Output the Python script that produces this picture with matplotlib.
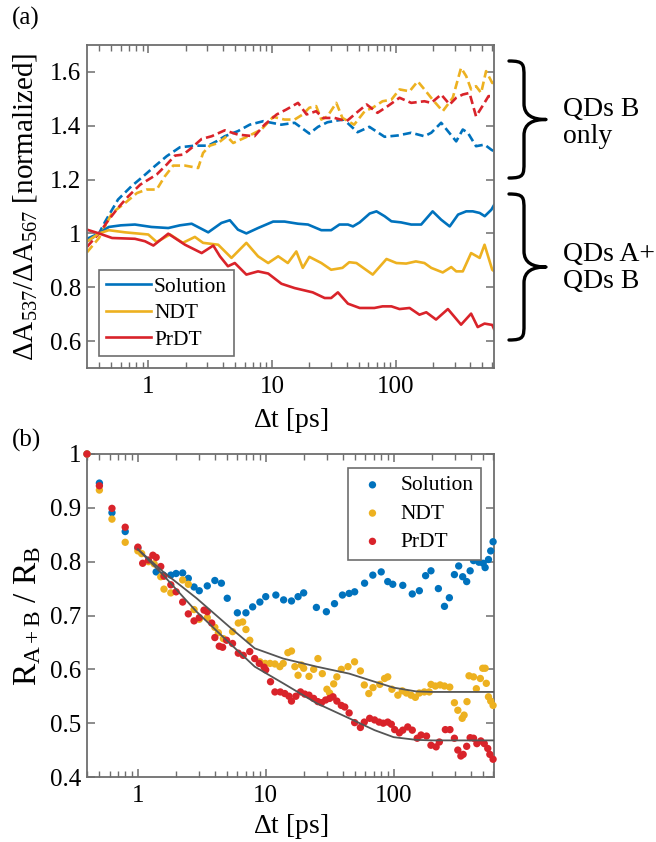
import matplotlib
matplotlib.use("Agg")
import matplotlib.pyplot as plt
from matplotlib.path import Path
from matplotlib.patches import PathPatch
from matplotlib.ticker import FixedLocator, FixedFormatter, LogLocator, NullFormatter

plt.rcParams['font.family'] = ['Liberation Serif', 'DejaVu Serif']
plt.rcParams['mathtext.fontset'] = 'custom'
plt.rcParams['mathtext.rm'] = 'Liberation Serif'
plt.rcParams['mathtext.it'] = 'Liberation Serif:italic'
plt.rcParams['mathtext.bf'] = 'Liberation Serif:bold'

# ---------------- colours / labels ----------------
series_names = ["Solution", "NDT", "PrDT"]
colors = ["#0072BD", "#EDB120", "#D9232A"]

# ---------------- panel (a): solid (QDs A + QDs B) ----------------
a_sol_t = [0.32, 0.4, 0.48, 0.6, 0.78, 1.06, 1.45, 1.8, 2.24, 3.05, 3.9, 4.56, 5.3, 6.2, 7.7, 10.2, 12.6, 16.2, 19.5,
           25, 30, 35, 41, 45, 51, 61.5, 69.7, 81, 92, 110, 133, 160, 198, 232, 272, 318, 370, 418, 475, 522, 590, 620]
a_sol_v = [0.98, 1.0, 1.024, 1.03, 1.033, 1.024, 1.02, 1.03, 1.036, 1.004, 1.039, 1.049, 1.014, 1.0, 1.02, 1.044,
           1.044, 1.036, 1.033, 1.012, 1.012, 1.033, 1.033, 1.026, 1.041, 1.074, 1.082, 1.064, 1.045, 1.041, 1.033,
           1.033, 1.082, 1.051, 1.026, 1.07, 1.082, 1.082, 1.076, 1.064, 1.088, 1.105]

a_ndt_t = [0.32, 0.4, 0.48, 0.65, 1.0, 1.17, 1.5, 1.9, 2.38, 2.77, 3.67, 4.7, 6.2, 7.7, 9.3, 11.2, 13.4, 15.7, 17.7,
           20, 25, 30, 37, 42, 48, 65, 84, 101, 121, 145, 170, 193, 239, 280, 307, 347, 405, 475, 520, 600, 620]
a_ndt_v = [0.97, 1.0, 1.012, 1.004, 0.996, 0.968, 0.996, 0.965, 0.987, 0.965, 0.958, 0.909, 0.965, 0.915, 0.89, 0.915,
           0.89, 0.933, 0.872, 0.913, 0.89, 0.865, 0.872, 0.893, 0.89, 0.847, 0.905, 0.89, 0.888, 0.896, 0.89, 0.872,
           0.855, 0.875, 0.859, 0.859, 0.927, 0.909, 0.958, 0.865, 0.86]

a_prdt_t = [0.32, 0.4, 0.51, 0.78, 0.94, 1.1, 1.45, 1.98, 2.7, 3.35, 3.79, 4.4, 5.0, 6.2, 7.7, 9.3, 11.9, 15.2, 21.3,
            26.6, 30, 34, 41, 51, 67, 78, 92, 107, 129, 155, 176, 211, 263, 336, 405, 458, 520, 600, 620]
a_prdt_v = [1.014, 1.0, 0.983, 0.98, 0.971, 0.955, 0.999, 0.958, 0.927, 0.955, 0.915, 0.878, 0.89, 0.847, 0.859,
            0.851, 0.813, 0.797, 0.781, 0.76, 0.76, 0.781, 0.739, 0.723, 0.723, 0.729, 0.729, 0.719, 0.723, 0.698,
            0.707, 0.68, 0.719, 0.661, 0.702, 0.652, 0.665, 0.66, 0.645]

# ---------------- panel (a): dashed (QDs B only) ----------------
b_sol_t = [0.32, 0.4, 0.45, 0.57, 0.73, 0.91, 1.13, 1.41, 1.8, 2.38, 3.05, 3.55, 4.15, 5.3, 6.6, 8.5, 9.9, 11.9, 15.2,
           20, 23.5, 28, 34, 38, 49, 61, 81, 104, 133, 170, 193, 232, 263, 307, 347, 381, 444, 520, 590, 620]
b_sol_v = [0.97, 1.0, 1.045, 1.126, 1.175, 1.212, 1.25, 1.287, 1.32, 1.326, 1.326, 1.342, 1.361, 1.38, 1.404, 1.417,
           1.411, 1.404, 1.411, 1.371, 1.396, 1.413, 1.42, 1.423, 1.376, 1.396, 1.359, 1.364, 1.374, 1.361, 1.374,
           1.411, 1.38, 1.342, 1.386, 1.374, 1.324, 1.33, 1.311, 1.305]

b_ndt_t = [0.32, 0.4, 0.51, 0.65, 0.81, 0.97, 1.17, 1.36, 1.59, 1.98, 2.53, 2.77, 3.14, 3.67, 4.3, 4.85, 6.4, 8.2,
           10.2, 12.6, 15.2, 17.7, 20, 22.7, 25, 28, 33, 37, 46, 56, 65, 78, 92, 107, 129, 150, 170, 198, 239, 288,
           336, 370, 405, 444, 488, 535, 600, 620]
b_ndt_v = [0.93, 0.983, 1.076, 1.113, 1.15, 1.163, 1.163, 1.212, 1.252, 1.252, 1.243, 1.299, 1.326, 1.336, 1.361,
           1.336, 1.361, 1.386, 1.433, 1.423, 1.423, 1.442, 1.467, 1.473, 1.423, 1.435, 1.485, 1.429, 1.404, 1.454,
           1.467, 1.491, 1.497, 1.535, 1.528, 1.565, 1.535, 1.497, 1.454, 1.504, 1.615, 1.584, 1.535, 1.547, 1.522,
           1.603, 1.559, 1.56]

b_prdt_t = [0.32, 0.4, 0.48, 0.57, 0.69, 0.86, 1.17, 1.41, 1.64, 1.92, 2.24, 2.7, 3.25, 4.15, 5.3, 7.2, 8.7, 10.9,
            13.0, 16.2, 19, 22.7, 25.7, 32, 40, 48, 58, 71, 86, 107, 133, 170, 193, 232, 272, 307, 347, 393, 444,
            500, 560, 620]
b_prdt_v = [0.95, 1.0, 1.051, 1.095, 1.138, 1.181, 1.219, 1.256, 1.289, 1.293, 1.318, 1.351, 1.361, 1.383, 1.367,
            1.361, 1.404, 1.442, 1.46, 1.485, 1.442, 1.454, 1.429, 1.429, 1.417, 1.448, 1.479, 1.448, 1.473, 1.504,
            1.485, 1.491, 1.485, 1.516, 1.479, 1.504, 1.516, 1.522, 1.435, 1.473, 1.51, 1.51]

# ---------------- panel (b): ratio R_A+B / R_B ----------------
r_sol_t = [0.4, 0.5, 0.627, 0.796, 1.0, 1.39, 1.58, 1.81, 1.99, 2.24, 2.48, 2.75, 3.02, 3.49, 4.0, 4.5, 5.0, 6.0,
           7.0, 7.9, 9.0, 10.0, 12.0, 13.8, 15.9, 17.9, 19.8, 24.9, 29.8, 34.5, 39.8, 44.9, 49.6, 59.3, 68.8, 80,
           90, 98.5, 118, 140, 159, 178, 196, 224, 250, 273, 299, 323, 347, 373, 397, 422, 448, 465, 502, 520, 552,
           575, 600]
r_sol_v = [1.0, 0.946, 0.891, 0.856, 0.825, 0.781, 0.775, 0.775, 0.778, 0.779, 0.769, 0.753, 0.746, 0.755, 0.765,
           0.76, 0.732, 0.705, 0.705, 0.716, 0.725, 0.735, 0.738, 0.729, 0.727, 0.735, 0.742, 0.715, 0.707, 0.722,
           0.738, 0.741, 0.744, 0.76, 0.775, 0.781, 0.763, 0.758, 0.756, 0.74, 0.746, 0.774, 0.783, 0.75, 0.717,
           0.733, 0.776, 0.792, 0.772, 0.763, 0.783, 0.802, 0.814, 0.799, 0.797, 0.789, 0.804, 0.82, 0.837]

r_ndt_t = [0.4, 0.5, 0.627, 0.796, 1.0, 1.07, 1.21, 1.34, 1.51, 1.6, 1.81, 2.24, 2.48, 2.75, 3.02, 3.49, 4.0, 4.26,
           4.66, 5.5, 6.1, 6.6, 7.0, 7.5, 9.0, 9.9, 10.8, 11.8, 12.9, 13.7, 14.9, 15.9, 16.9, 17.9, 19.0, 19.8, 21.8,
           23.7, 25.6, 27.7, 30.1, 31.6, 34, 36, 39, 44, 49.5, 55, 59, 64, 69, 78, 85, 90, 97, 108, 117, 126, 137,
           148, 159, 174, 190, 196, 212, 231, 250, 275, 299, 318, 344, 356, 375, 389, 422, 444, 477, 498, 520, 531,
           552, 575, 600]
r_ndt_v = [1.0, 0.933, 0.879, 0.836, 0.82, 0.815, 0.8, 0.796, 0.772, 0.749, 0.742, 0.766, 0.758, 0.711, 0.693, 0.696,
           0.678, 0.668, 0.657, 0.67, 0.686, 0.688, 0.674, 0.654, 0.614, 0.611, 0.611, 0.61, 0.605, 0.611, 0.631,
           0.634, 0.605, 0.589, 0.608, 0.602, 0.587, 0.6, 0.62, 0.592, 0.563, 0.556, 0.573, 0.586, 0.6, 0.605, 0.614,
           0.597, 0.571, 0.555, 0.566, 0.572, 0.583, 0.586, 0.563, 0.552, 0.56, 0.556, 0.552, 0.548, 0.556, 0.558,
           0.558, 0.572, 0.569, 0.571, 0.569, 0.567, 0.538, 0.524, 0.509, 0.515, 0.54, 0.588, 0.586, 0.564, 0.583,
           0.602, 0.602, 0.574, 0.549, 0.541, 0.533]

r_prdt_t = [0.4, 0.5, 0.627, 0.796, 1.0, 1.09, 1.21, 1.31, 1.39, 1.51, 1.6, 1.81, 1.99, 2.24, 2.48, 2.75, 3.02, 3.29,
            3.49, 3.78, 4.0, 4.33, 4.6, 4.94, 5.5, 6.1, 6.67, 7.5, 8.2, 8.9, 9.7, 10.0, 10.9, 11.8, 13.0, 14.1, 15.2,
            15.9, 17.2, 18.7, 20.2, 21.8, 23.7, 25.6, 27.3, 29.4, 31.6, 33.6, 36, 39, 41.5, 44.9, 49.6, 55, 59, 65,
            71, 77, 83, 90, 96, 102, 111, 118, 129, 140, 153, 164, 181, 196, 215, 228, 254, 276, 299, 318, 336, 350,
            373, 397, 422, 448, 481, 512, 545, 566, 600]
r_prdt_v = [1.0, 0.941, 0.899, 0.864, 0.827, 0.797, 0.803, 0.812, 0.808, 0.791, 0.773, 0.757, 0.744, 0.725, 0.703,
            0.69, 0.696, 0.71, 0.707, 0.686, 0.659, 0.643, 0.641, 0.654, 0.648, 0.63, 0.626, 0.633, 0.62, 0.611,
            0.604, 0.599, 0.577, 0.558, 0.558, 0.555, 0.55, 0.541, 0.55, 0.558, 0.554, 0.552, 0.546, 0.54, 0.538,
            0.543, 0.546, 0.549, 0.541, 0.533, 0.53, 0.519, 0.501, 0.492, 0.502, 0.509, 0.506, 0.502, 0.5, 0.502,
            0.498, 0.488, 0.482, 0.487, 0.493, 0.487, 0.472, 0.478, 0.476, 0.459, 0.456, 0.465, 0.488, 0.488, 0.472,
            0.45, 0.439, 0.442, 0.457, 0.473, 0.472, 0.462, 0.467, 0.462, 0.453, 0.442, 0.433]

# fit curves (gray)
fit_t = [1.0, 1.58, 2.88, 5.25, 8.2, 13.7, 25, 45, 71, 100, 150, 200, 600]
fit_ndt_v = [0.823, 0.781, 0.732, 0.678, 0.639, 0.62, 0.605, 0.592, 0.577, 0.566, 0.559, 0.558, 0.558]
fit_prdt_v = [0.823, 0.775, 0.707, 0.648, 0.605, 0.574, 0.537, 0.509, 0.487, 0.474, 0.469, 0.468, 0.468]

a_yticks = [0.6, 0.8, 1.0, 1.2, 1.4, 1.6]
a_yticklabels = ["0.6", "0.8", "1", "1.2", "1.4", "1.6"]
b_yticks = [0.4, 0.5, 0.6, 0.7, 0.8, 0.9, 1.0]
b_yticklabels = ["0.4", "0.5", "0.6", "0.7", "0.8", "0.9", "1"]
xticks = [1, 10, 100]
xticklabels = ["1", "10", "100"]

W, H = 656, 842
fig = plt.figure(figsize=(W / 100, H / 100), dpi=100)


def px_rect(l, t, r, b):
    return [l / W, 1 - b / H, (r - l) / W, (b - t) / H]


axA = fig.add_axes(px_rect(87, 45, 494, 368))
axB = fig.add_axes(px_rect(87, 454, 494, 777))

spine_col = "#6e6e6e"
TICK_FS = 18
LABEL_FS = 20


def style_axes(ax):
    ax.set_xscale("log")
    for s in ax.spines.values():
        s.set_color(spine_col)
        s.set_linewidth(1.3)
    ax.xaxis.set_major_locator(FixedLocator(xticks))
    ax.xaxis.set_major_formatter(FixedFormatter(xticklabels))
    ax.xaxis.set_minor_locator(LogLocator(base=10, subs=[2, 3, 4, 5, 6, 7, 8, 9], numticks=20))
    ax.xaxis.set_minor_formatter(NullFormatter())
    ax.tick_params(which="both", direction="in", top=True, right=True, color=spine_col,
                   labelsize=TICK_FS, labelcolor="black")
    ax.tick_params(which="major", length=6, width=1.1)
    ax.tick_params(which="minor", length=4, width=1.0)
    ax.tick_params(axis="x", pad=6)
    ax.tick_params(axis="y", pad=4)


# ---------- panel (a) ----------
lw = 1.9
dash = (3.2, 1.6)
solid_sets = [(a_sol_t, a_sol_v), (a_ndt_t, a_ndt_v), (a_prdt_t, a_prdt_v)]
dashed_sets = [(b_sol_t, b_sol_v), (b_ndt_t, b_ndt_v), (b_prdt_t, b_prdt_v)]
for (t, v), c in zip(dashed_sets, colors):
    axA.plot(t, v, color=c, lw=lw, dashes=dash)
handles = []
for (t, v), c, n in zip(solid_sets, colors, series_names):
    h, = axA.plot(t, v, color=c, lw=lw, label=n)
    handles.append(h)

style_axes(axA)
axA.set_xlim(0.32, 620)
axA.set_ylim(0.5, 1.7)
axA.yaxis.set_major_locator(FixedLocator(a_yticks))
axA.yaxis.set_major_formatter(FixedFormatter(a_yticklabels))
axA.set_xlabel(r"$\Delta$t [ps]", fontsize=LABEL_FS)
axA.xaxis.set_label_coords(0.5, -0.118)
axA.set_ylabel(r"$\Delta\mathrm{A}_{537}/\Delta\mathrm{A}_{567}$ [normalized]", fontsize=LABEL_FS + 1)
axA.yaxis.set_label_coords(-0.118, 0.5)
legA = axA.legend(handles=handles, loc="lower left", bbox_to_anchor=(0.03, 0.037), borderaxespad=0,
                  fontsize=15.5, frameon=True, fancybox=False, framealpha=1, edgecolor=spine_col,
                  handlelength=2.1, handletextpad=0.15, labelspacing=0.3, borderpad=0.3)
legA.get_frame().set_linewidth(1.2)

# ---------- panel (b) ----------
ms = 28
scat_sets = [(r_sol_t, r_sol_v), (r_ndt_t, r_ndt_v), (r_prdt_t, r_prdt_v)]
for (t, v), c, n in zip(scat_sets, colors, series_names):
    axB.scatter(t, v, s=ms, color=c, edgecolors="none", label=n, clip_on=False, zorder=3)
axB.plot(fit_t, fit_ndt_v, color="#555555", lw=1.3, zorder=4)
axB.plot(fit_t, fit_prdt_v, color="#555555", lw=1.3, zorder=4)

style_axes(axB)
axB.set_xlim(0.4, 610)
axB.set_ylim(0.4, 1.0)
axB.yaxis.set_major_locator(FixedLocator(b_yticks))
axB.yaxis.set_major_formatter(FixedFormatter(b_yticklabels))
axB.set_xlabel(r"$\Delta$t [ps]", fontsize=LABEL_FS)
axB.xaxis.set_label_coords(0.5, -0.108)
axB.set_ylabel(r"$\mathrm{R}_{\mathrm{A+B}}\ /\ \mathrm{R}_{\mathrm{B}}$", fontsize=24)
axB.yaxis.set_label_coords(-0.108, 0.5)
legB = axB.legend(loc="upper right", bbox_to_anchor=(0.968, 0.957), borderaxespad=0, fontsize=15.5,
                  frameon=True, fancybox=False, framealpha=1, edgecolor=spine_col,
                  handlelength=1.6, handletextpad=0.5, labelspacing=0.38, borderpad=0.35, scatterpoints=1)
legB.get_frame().set_linewidth(1.2)

# ---------- panel letters ----------
fig.text(12 / W, 1 - 18 / H, "(a)", fontsize=18, ha="left", va="center")
fig.text(12 / W, 1 - 440 / H, "(b)", fontsize=18, ha="left", va="center")


# ---------- curly braces ----------
def brace(x0, ytop, ybot, xtip, xs, r):
    ym = (ytop + ybot) / 2
    pts = [
        (x0, ytop),
        (xs, ytop), (xs, ytop + r * 0.2), (xs, ytop + r),
        (xs, ym - r),
        (xs, ym - r * 0.25), (xs + (xtip - xs) * 0.4, ym), (xtip, ym),
        (xs + (xtip - xs) * 0.4, ym), (xs, ym + r * 0.25), (xs, ym + r),
        (xs, ybot - r),
        (xs, ybot - r * 0.2), (xs, ybot), (x0, ybot),
    ]
    codes = [Path.MOVETO,
             Path.CURVE4, Path.CURVE4, Path.CURVE4,
             Path.LINETO,
             Path.CURVE4, Path.CURVE4, Path.CURVE4,
             Path.CURVE4, Path.CURVE4, Path.CURVE4,
             Path.LINETO,
             Path.CURVE4, Path.CURVE4, Path.CURVE4]
    fpts = [(x / W, 1 - y / H) for x, y in pts]
    patch = PathPatch(Path(fpts, codes), transform=fig.transFigure, facecolor="none",
                      edgecolor="black", lw=2.4, capstyle="round", joinstyle="round")
    fig.add_artist(patch)


brace(509, 61, 178, 546, 524, 16)
brace(509, 194, 340, 546, 524, 16)

fig.text(563 / W, 1 - 123 / H, "QDs B\nonly", fontsize=20, ha="left", va="center", linespacing=1.15)
fig.text(563 / W, 1 - 268 / H, "QDs A+\nQDs B", fontsize=20, ha="left", va="center", linespacing=1.15)

fig.savefig("out.png", dpi=100)
